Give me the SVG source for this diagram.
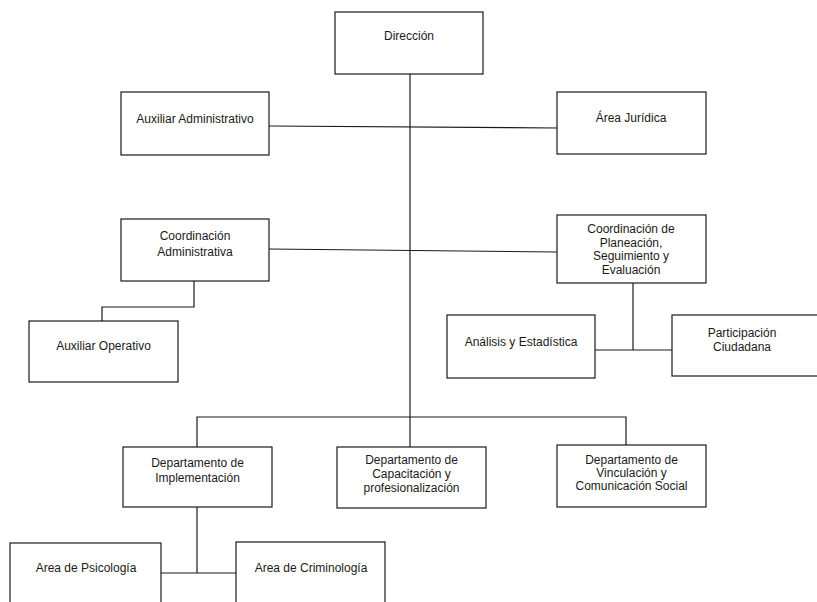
<svg xmlns="http://www.w3.org/2000/svg" width="817" height="602" viewBox="0 0 817 602">
<style>
.box{fill:#fff;stroke:#1a1a1a;stroke-width:1.2}
.t{font-family:"Liberation Sans",Arial,sans-serif;font-size:12px;fill:#1a1a1a;text-anchor:middle}
.c{fill:none;stroke:#1a1a1a;stroke-width:1.2}
</style>
<rect width="817" height="602" fill="#fff"/>
<g id="connectors">
<line class="c" x1="410" y1="74" x2="410" y2="447"/>
<line class="c" x1="269" y1="126" x2="557" y2="128"/>
<line class="c" x1="269" y1="249" x2="557" y2="252"/>
<polyline class="c" points="194,281 194,307 102,307 102,321"/>
<line class="c" x1="633" y1="283" x2="633" y2="350"/>
<line class="c" x1="595" y1="350" x2="672" y2="350"/>
<polyline class="c" points="197,447 197,417 626,417 626,445"/>
<line class="c" x1="197" y1="507" x2="197" y2="573"/>
<line class="c" x1="161" y1="573" x2="236" y2="573"/>
</g>
<g id="direccion"><rect class="box" x="335" y="12" width="148" height="62"/><text class="t" x="409" y="40">Dirección</text></g>
<g id="auxiliar-administrativo"><rect class="box" x="121" y="92" width="148" height="63"/><text class="t" x="195" y="123">Auxiliar Administrativo</text></g>
<g id="area-juridica"><rect class="box" x="557" y="92" width="149" height="62"/><text class="t" x="631" y="122">Área Jurídica</text></g>
<g id="coordinacion-administrativa"><rect class="box" x="121" y="219" width="148" height="62"/><text class="t" x="195" y="240">Coordinación</text><text class="t" x="195" y="256">Administrativa</text></g>
<g id="coordinacion-planeacion"><rect class="box" x="557" y="215" width="149" height="68"/><text class="t" x="631" y="233">Coordinación de</text><text class="t" x="631" y="246.5">Planeación,</text><text class="t" x="631" y="260">Seguimiento y</text><text class="t" x="631" y="273.5">Evaluación</text></g>
<g id="auxiliar-operativo"><rect class="box" x="29" y="321" width="149" height="61"/><text class="t" x="103.5" y="350">Auxiliar Operativo</text></g>
<g id="analisis-estadistica"><rect class="box" x="447" y="315" width="148" height="63"/><text class="t" x="521" y="346">Análisis y Estadística</text></g>
<g id="participacion-ciudadana"><rect class="box" x="672" y="315" width="150" height="61"/><text class="t" x="742" y="337">Participación</text><text class="t" x="742" y="351">Ciudadana</text></g>
<g id="departamento-implementacion"><rect class="box" x="123" y="447" width="149" height="60"/><text class="t" x="197.5" y="467">Departamento de</text><text class="t" x="197.5" y="482">Implementación</text></g>
<g id="departamento-capacitacion"><rect class="box" x="337" y="447" width="149" height="61"/><text class="t" x="411.5" y="464">Departamento de</text><text class="t" x="411.5" y="478">Capacitación y</text><text class="t" x="411.5" y="492">profesionalización</text></g>
<g id="departamento-vinculacion"><rect class="box" x="557" y="445" width="149" height="62"/><text class="t" x="631.5" y="464">Departamento de</text><text class="t" x="631.5" y="477">Vinculación y</text><text class="t" x="631.5" y="490">Comunicación Social</text></g>
<g id="area-psicologia"><rect class="box" x="10" y="543" width="151" height="70"/><text class="t" x="86" y="572">Area de Psicología</text></g>
<g id="area-criminologia"><rect class="box" x="236" y="542" width="149" height="70"/><text class="t" x="311" y="572">Area de Criminología</text></g>
</svg>
